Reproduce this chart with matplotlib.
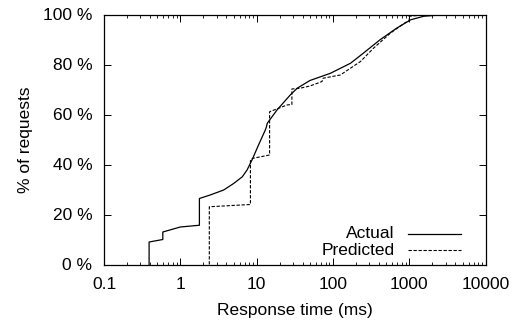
import numpy as np
import matplotlib
matplotlib.use("Agg")
import matplotlib.pyplot as plt
from matplotlib.ticker import FixedLocator, LogLocator, NullFormatter

plt.rcParams['font.family'] = ['Liberation Sans', 'DejaVu Sans']

# CDF of response time
actualMs = [0.39, 0.39, 0.59, 0.59, 1.0, 1.78, 1.78, 2.46, 3.7, 5.0, 6.5, 7.5,
            8.7, 10.6, 13.0, 13.4, 13.8, 18.5, 27.6, 34, 50, 93, 170, 250,
            415, 690, 1050, 1550, 2500, 4700]
actualPct = [0, 9, 10, 13, 15, 15.7, 26.4, 27.8, 29.8, 32.4, 35.1, 37.8,
             41.8, 47.8, 53.8, 54.9, 56.5, 61.8, 67.8, 70.5, 73.6, 76.5, 80.5, 84.5,
             89.9, 94.6, 97.9, 99.3, 99.8, 100]

predMs = [2.4, 2.4, 8.3, 8.3, 9.0, 14.8, 14.8, 25, 29, 29, 37, 50, 72, 74,
          125, 230, 340, 565, 890, 1000, 1000, 1500, 4700]
predPct = [0, 23.1, 24.0, 41.8, 42.5, 43.8, 61.1, 63.8, 64.0, 70.2, 70.5, 71.4, 73.2, 74.5,
           75.8, 81.2, 86.5, 92.5, 96.8, 97.5, 99.3, 99.8, 100]

xTicks = [0.1, 1, 10, 100, 1000, 10000]
xTickLabels = ["0.1", "1", "10", "100", "1000", "10000"]
yTicks = [0, 20, 40, 60, 80, 100]
yTickLabels = ["0 %", "20 %", "40 %", "60 %", "80 %", "100 %"]

fs = 12.5

fig = plt.figure(figsize=(5.23, 3.22), dpi=100)
ax = fig.add_axes([104/523, 1-264.5/322, (485.5-104)/523, (264.5-14.5)/322])

ax.plot(actualMs, actualPct, color='black', lw=0.9)
ax.plot(predMs, predPct, color='black', lw=0.8, linestyle=(0, (3, 1.5)))

ax.set_xscale('log')
ax.set_xlim(0.1, 10000)
ax.set_ylim(0, 100)
ax.xaxis.set_major_locator(FixedLocator(xTicks))
ax.set_xticklabels(xTickLabels)
ax.xaxis.set_minor_locator(LogLocator(base=10, subs=np.arange(2, 10)))
ax.xaxis.set_minor_formatter(NullFormatter())
ax.set_yticks(yTicks)
ax.set_yticklabels(yTickLabels)

ax.tick_params(which='both', direction='in', top=True, right=True, labelsize=fs)
ax.tick_params(which='major', length=5, width=0.7)
ax.tick_params(axis='y', pad=8.5)
ax.tick_params(axis='x', pad=9)
ax.tick_params(which='minor', length=2.5, width=0.6)
for s in ax.spines.values():
  s.set_linewidth(0.9)

ax.set_xlabel("Response time (ms)", fontsize=fs, labelpad=8)
ax.set_ylabel("% of requests", fontsize=fs, labelpad=7)

# gnuplot-style key: right aligned text, sample line after it
ax.text(0.762, 0.124, "Actual", transform=ax.transAxes, ha='right', va='center', fontsize=fs)
ax.text(0.762, 0.057, "Predicted", transform=ax.transAxes, ha='right', va='center', fontsize=fs)
ax.plot([0.798, 0.937], [0.124, 0.124], transform=ax.transAxes, color='black', lw=0.9)
ax.plot([0.798, 0.937], [0.057, 0.057], transform=ax.transAxes, color='black', lw=0.8,
        linestyle=(0, (3, 1.5)))

fig.savefig("out.png", dpi=100)
